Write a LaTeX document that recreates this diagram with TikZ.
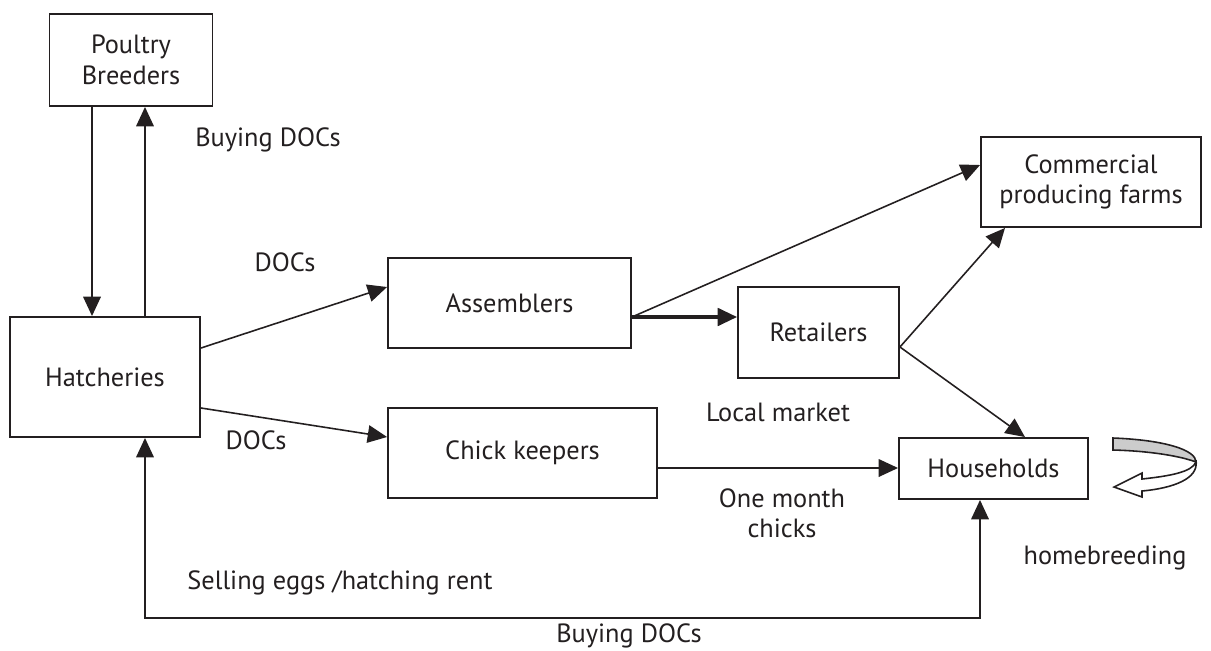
\documentclass[tikz,border=0pt]{standalone}
\usepackage{fontspec}
\setmainfont{PT Sans}
\usepackage{tikz}
\usetikzlibrary{arrows.meta,positioning,calc}
\definecolor{ink}{HTML}{231F20}
\definecolor{band}{HTML}{CCCCCC}
\tikzset{
  node_box/.style={draw=ink,line width=1.1pt,fill=white,align=center,
    inner sep=2pt,font=\fontsize{15}{17.5}\selectfont\color{ink}},
  lbl/.style={align=center,inner sep=0pt,font=\fontsize{15}{17}\selectfont\color{ink}},
  arr/.style={-{Triangle[length=11pt,width=10pt]},draw=ink,line width=0.9pt},
  arr_thick/.style={-{Triangle[length=11pt,width=10pt]},draw=ink,line width=1.8pt},
  arr_both/.style={{Triangle[length=11pt,width=10pt]}-{Triangle[length=11pt,width=10pt]},draw=ink,line width=0.9pt},
}
\begin{document}
\begin{tikzpicture}[x=0.02cm,y=-0.02cm]
  \useasboundingbox (0,0) rectangle (1211,650);

  \node[node_box,minimum width=3.26cm,minimum height=1.84cm] (breed) at (131,60) {Poultry\\Breeders};
  \node[node_box,minimum width=3.8cm,minimum height=2.4cm] (hatch) at (105,377) {Hatcheries};
  \node[node_box,minimum width=4.86cm,minimum height=1.8cm] (assem) at (509.5,303) {Assemblers};
  \node[node_box,minimum width=3.22cm,minimum height=1.82cm] (retail) at (818.5,332.5) {Retailers};
  \node[node_box,minimum width=4.4cm,minimum height=1.8cm] (farms) at (1091,182) {Commercial\\producing farms};
  \node[node_box,minimum width=5.38cm,minimum height=1.8cm] (keeper) at (522.5,453) {Chick keepers};
  \node[node_box,minimum width=3.78cm,minimum height=1.22cm] (house) at (993.5,468.5) {Households};

  \coordinate (lowline) at (500,618);

  % labels
  \node[lbl] (l_buy) at (268,140) {Buying DOCs};
  \node[lbl] (l_doc1) at (285,262) {DOCs};
  \node[lbl] (l_doc2) at (256,440) {DOCs};
  \node[lbl] (l_local) at (778,412) {Local market};
  \node[lbl] (l_month) at (782,513) {One month\\chicks};
  \node[lbl] (l_sell) at (340,583) {Selling eggs /hatching rent};
  \node[lbl] (l_buy2) at (629,636) {Buying DOCs};
  \node[lbl] (l_home) at (1105,558) {homebreeding};

  \draw[arr] ([xshift=-0.78cm]breed.south) -- ([xshift=-0.78cm]breed.south |- hatch.north);
  \draw[arr] ([xshift=0.28cm]breed.south |- hatch.north) -- ([xshift=0.28cm]breed.south);
  \draw[arr] ([yshift=0.58cm]hatch.east) -- ([yshift=0.32cm]assem.west);
  \draw[arr] ([yshift=-0.62cm]hatch.east) -- ([yshift=0.32cm]keeper.west);
  \draw[arr] ([yshift=-0.28cm]assem.east) -- ([yshift=0.34cm]farms.west);
  \draw[arr_thick] ([yshift=-0.28cm]assem.east) -- ([yshift=-0.28cm]assem.east -| retail.west);
  \draw[arr] ([yshift=-0.29cm]retail.east) -- ([xshift=-1.72cm]farms.south);
  \draw[arr] ([yshift=-0.29cm]retail.east) -- ([xshift=0.63cm]house.north);
  \draw[arr] ([yshift=-0.3cm]keeper.east) -- ([yshift=-0.3cm]keeper.east -| house.west);
  \draw[arr_both] ([xshift=0.8cm]hatch.south) |- (lowline) -| ([xshift=-0.27cm]house.south);

  % self loop of the households
  \draw[ink,line width=0.9pt,fill=band] (1113,438) .. controls (1165,440) and (1196,450) .. (1196,462)
    .. controls (1180,456) and (1150,451) .. (1113,450) -- cycle;
  \draw[ink,line width=0.9pt,fill=white] (1196,462) .. controls (1192,472) and (1170,476) .. (1142,479)
    -- (1142,473) -- (1114,487) -- (1142,497) -- (1142,491) .. controls (1175,488) and (1198,478) .. (1196,462) -- cycle;
\end{tikzpicture}
\end{document}
